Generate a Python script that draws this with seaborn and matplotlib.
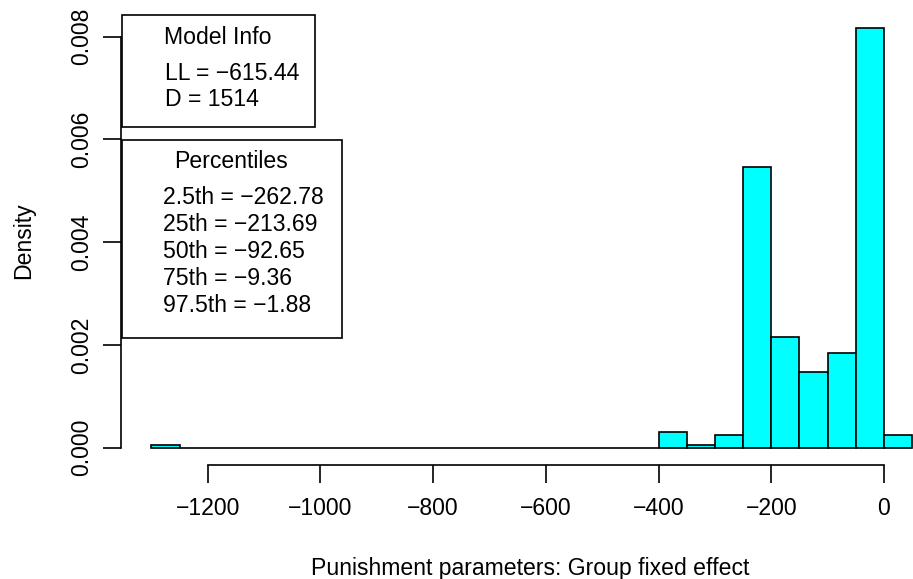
import matplotlib
matplotlib.use("Agg")
import matplotlib.pyplot as plt
import seaborn as sns
import numpy as np
from matplotlib.patches import Rectangle

# bin edges (width 50) and counts per bin
bin_edges = np.arange(-1300, 51, 50)
bin_counts = [1] + [0] * 17 + [5, 1, 4, 89, 35, 24, 30, 133, 4]
model_lines = ["LL = \u2212615.44", "D = 1514"]
pct_lines = ["2.5th = \u2212262.78", "25th = \u2212213.69", "50th = \u221292.65",
             "75th = \u22129.36", "97.5th = \u22121.88"]
x_ticks = [-1200, -1000, -800, -600, -400, -200, 0]
y_ticks = [0.000, 0.002, 0.004, 0.006, 0.008]

sns.set_style("white")
plt.rcParams['font.family'] = ['Liberation Sans', 'DejaVu Sans']
plt.rcParams.update({"text.color": "black", "axes.labelcolor": "black",
                     "xtick.color": "black", "ytick.color": "black"})
fs = 16.6
lw = 1.2

centers = (bin_edges[:-1] + bin_edges[1:]) / 2
values = np.repeat(centers, bin_counts)

W, H = 913, 579
fig = plt.figure(figsize=(W / 100, H / 100), dpi=100)
# plot region in pixels: x 121..913, y 13..465
ax = fig.add_axes([121 / W, (H - 465) / H, (W - 121) / W, (465 - 13) / H])

sns.histplot(x=values, bins=bin_edges, stat="density", color="cyan", alpha=1,
             edgecolor="black", linewidth=lw, ax=ax)

ax.set_xlim(-1354, 51.5)
ax.set_ylim(-0.000337, 0.00846)

for s in ["top", "right"]:
    ax.spines[s].set_visible(False)
ax.spines["left"].set_bounds(0, 0.008)
ax.spines["bottom"].set_bounds(-1200, 0)
for s in ["left", "bottom"]:
    ax.spines[s].set_linewidth(lw)
    ax.spines[s].set_color("black")

ax.set_xticks(x_ticks)
ax.set_xticklabels([f"{t}".replace("-", "\u2212") for t in x_ticks])
ax.set_yticks(y_ticks)
ax.set_yticklabels([f"{t:.3f}" for t in y_ticks], rotation=90, va="center")
ax.tick_params(axis="both", direction="out", length=13, width=lw, labelsize=fs,
               color="black", labelcolor="black", left=True, bottom=True)
ax.tick_params(axis="x", pad=10)
ax.tick_params(axis="y", pad=7)
ax.set_xlabel("")
ax.set_ylabel("")


def px(x, y):
    return x / W, 1 - y / H


fig.text(*px(530, 568), "Punishment parameters: Group fixed effect",
         fontsize=fs, ha="center", va="center", color="black")
fig.text(*px(24, 241), "Density", fontsize=fs, rotation=90,
         ha="center", va="center", color="black")

# Model Info box
x0, y0 = px(122, 127)
fig.patches.append(Rectangle((x0, y0), (315 - 122) / W, (127 - 15) / H,
                             transform=fig.transFigure, fill=False,
                             edgecolor="black", linewidth=lw))
fig.text(*px(218, 37), "Model Info", fontsize=fs, ha="center", va="center",
         color="black")
for i, t in enumerate(model_lines):
    fig.text(*px(165, 73 + 27 * i), t, fontsize=fs, ha="left", va="center",
             color="black")

# Percentiles box
x0, y0 = px(122, 338)
fig.patches.append(Rectangle((x0, y0), (342 - 122) / W, (338 - 140) / H,
                             transform=fig.transFigure, fill=False,
                             edgecolor="black", linewidth=lw))
fig.text(*px(231, 162), "Percentiles", fontsize=fs, ha="center", va="center",
         color="black")
for i, t in enumerate(pct_lines):
    fig.text(*px(163, 198 + 26.75 * i), t, fontsize=fs, ha="left", va="center",
             color="black")

fig.savefig("out.png", dpi=100, facecolor="white")
